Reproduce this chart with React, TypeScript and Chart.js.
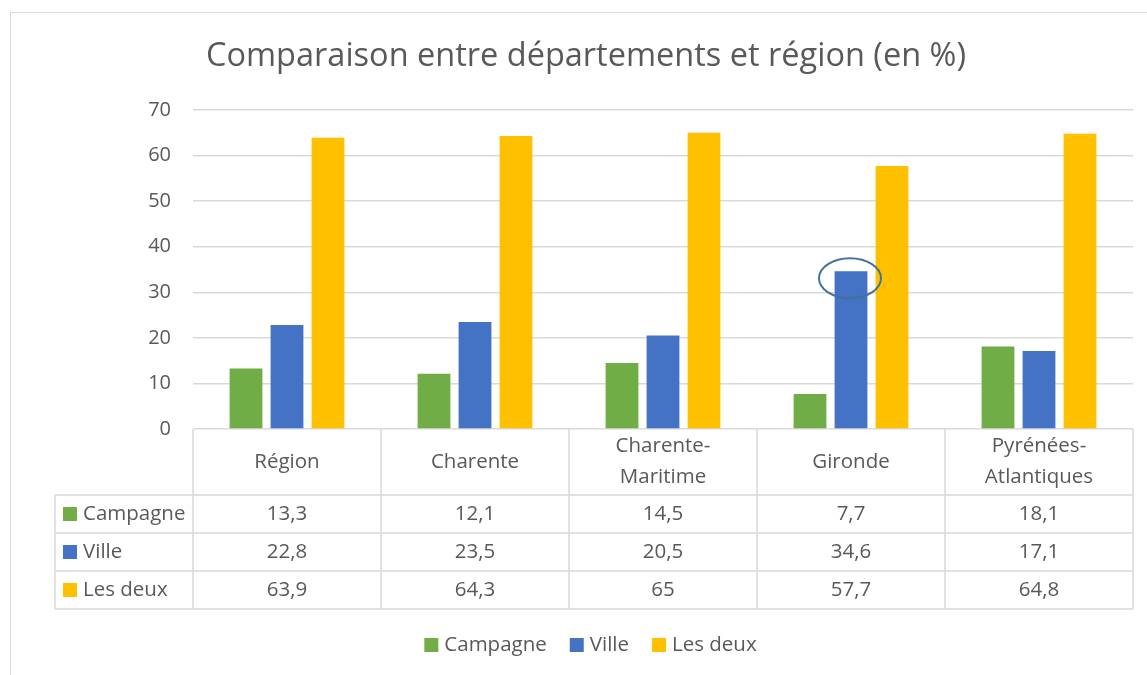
import React, { useEffect, useRef } from "react";
import { Chart, registerables } from "chart.js";

Chart.register(...registerables);

const TITLE = "Comparaison entre départements et région (en %)";
const categories: string[][] = [
  ["Région"],
  ["Charente"],
  ["Charente-", "Maritime"],
  ["Gironde"],
  ["Pyrénées-", "Atlantiques"],
];
const seriesNames = ["Campagne", "Ville", "Les deux"];
const campagne = [13.3, 12.1, 14.5, 7.7, 18.1];
const ville = [22.8, 23.5, 20.5, 34.6, 17.1];
const lesDeux = [63.9, 64.3, 65, 57.7, 64.8];
const seriesColors = ["#70AD47", "#4472C4", "#FFC000"];
const yMin = 0;
const yMax = 70;
const yStep = 10;
const highlightSeries = 1;
const highlightIndex = 3;

const FONT = "'Open Sans', sans-serif";
const TEXT = "#595959";
const LINE = "#D9D9D9";

const fmt = (v: number) => String(v).replace(".", ",");

const tablePlugin = {
  id: "excelTable",
  afterDraw(chart: any) {
    const ctx: CanvasRenderingContext2D = chart.ctx;
    const area = chart.chartArea;
    const xs = chart.scales.x;
    const n = categories.length;
    const colW = (area.right - area.left) / n;
    const headerTop = area.bottom;
    const headerBottom = 495;
    const rowH = 38;
    const tableLeft = 55;
    const allSeries = [campagne, ville, lesDeux];
    const tableBottom = headerBottom + rowH * allSeries.length;

    ctx.save();
    // outer chart border
    ctx.strokeStyle = LINE;
    ctx.lineWidth = 1;
    ctx.strokeRect(10.5, 12.5, 1300, 800);

    // title
    ctx.fillStyle = TEXT;
    ctx.font = `32.5px ${FONT}`;
    ctx.textAlign = "center";
    ctx.textBaseline = "middle";
    ctx.fillText(TITLE, 586, 57);

    // table grid
    ctx.strokeStyle = LINE;
    ctx.lineWidth = 1.5;
    ctx.beginPath();
    for (let r = 0; r <= allSeries.length; r++) {
      const y = headerBottom + r * rowH;
      ctx.moveTo(tableLeft, y);
      ctx.lineTo(area.right, y);
    }
    for (let i = 0; i <= n; i++) {
      const x = area.left + i * colW;
      ctx.moveTo(x, headerTop);
      ctx.lineTo(x, tableBottom);
    }
    ctx.moveTo(tableLeft, headerBottom);
    ctx.lineTo(tableLeft, tableBottom);
    ctx.stroke();

    // header labels
    ctx.font = `20.5px ${FONT}`;
    ctx.fillStyle = TEXT;
    ctx.textAlign = "center";
    ctx.textBaseline = "middle";
    const headerMid = (headerTop + headerBottom) / 2;
    const lineH = 31;
    categories.forEach((lines, i) => {
      const cx = xs.getPixelForValue(i);
      const y0 = headerMid - ((lines.length - 1) * lineH) / 2;
      lines.forEach((t, k) => ctx.fillText(t, cx, y0 + k * lineH));
    });

    // rows
    allSeries.forEach((vals, s) => {
      const cy = headerBottom + rowH * (s + 0.5);
      ctx.fillStyle = seriesColors[s];
      ctx.fillRect(63, cy - 7, 14, 14);
      ctx.fillStyle = TEXT;
      ctx.textAlign = "left";
      ctx.fillText(seriesNames[s], 83, cy);
      ctx.textAlign = "center";
      vals.forEach((v, i) => ctx.fillText(fmt(v), xs.getPixelForValue(i), cy));
    });

    // legend
    const box = 14;
    const gap = 6;
    const itemGap = 23;
    const widths = seriesNames.map((t) => box + gap + ctx.measureText(t).width);
    const total = widths.reduce((a, b) => a + b, 0) + itemGap * (widths.length - 1);
    let lx = 590.5 - total / 2;
    const ly = 645;
    ctx.textAlign = "left";
    seriesNames.forEach((t, s) => {
      ctx.fillStyle = seriesColors[s];
      ctx.fillRect(lx, ly - 7, box, box);
      ctx.fillStyle = TEXT;
      ctx.fillText(t, lx + box + gap, ly);
      lx += widths[s] + itemGap;
    });

    // highlight ellipse
    const bar = chart.getDatasetMeta(highlightSeries).data[highlightIndex];
    if (bar) {
      ctx.strokeStyle = "#41719C";
      ctx.lineWidth = 2;
      ctx.beginPath();
      ctx.ellipse(bar.x - 1, bar.y + 7, 31, 20, 0, 0, Math.PI * 2);
      ctx.stroke();
    }
    ctx.restore();
  },
};

export default function App() {
  const ref = useRef<HTMLCanvasElement | null>(null);
  useEffect(() => {
    if (!ref.current) return;
    const chart = new Chart(ref.current, {
      type: "bar",
      data: {
        labels: categories.map((c) => c.join("")),
        datasets: [campagne, ville, lesDeux].map((d, s) => ({
          label: seriesNames[s],
          data: d,
          backgroundColor: seriesColors[s],
          borderWidth: 0,
          categoryPercentage: 0.654,
          barPercentage: 0.8,
        })),
      },
      options: {
        responsive: false,
        animation: false,
        layout: { padding: { left: 10, right: 14, top: 110, bottom: 246 } },
        plugins: {
          legend: { display: false },
          title: { display: false },
          tooltip: { enabled: false },
        },
        scales: {
          x: { display: false, offset: true },
          y: {
            min: yMin,
            max: yMax,
            ticks: {
              stepSize: yStep,
              padding: 22,
              color: TEXT,
              font: { family: FONT, size: 20 },
            },
            grid: { color: LINE, lineWidth: 1.5, drawTicks: false },
            border: { display: false },
            afterFit: (axis: any) => {
              axis.width = 183;
            },
          },
        },
      },
      plugins: [tablePlugin],
    });
    return () => chart.destroy();
  }, []);
  return (
    <div style={{ position: "fixed", left: 0, top: 0, width: 1147, height: 675, background: "#fff" }}>
      <canvas ref={ref} width={1147} height={675} style={{ width: 1147, height: 675 }} />
    </div>
  );
}
